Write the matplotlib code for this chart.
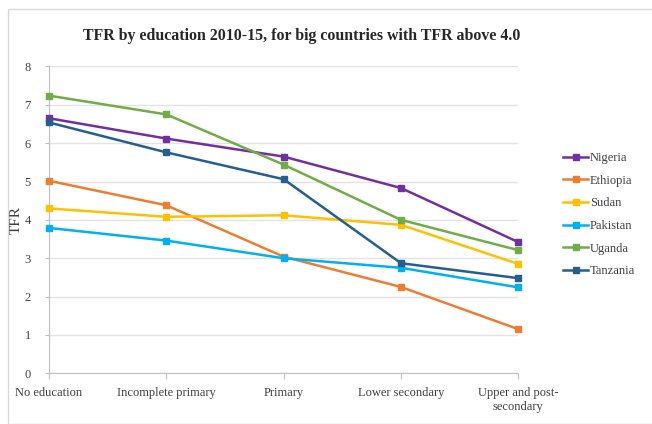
import matplotlib.pyplot as plt
from matplotlib.patches import Rectangle

levels = ["No education", "Incomplete primary", "Primary", "Lower secondary",
          "Upper and post-\nsecondary"]

nigeria = [6.65, 6.12, 5.65, 4.83, 3.42]
ethiopia = [5.02, 4.38, 3.04, 2.25, 1.15]
sudan = [4.30, 4.08, 4.12, 3.87, 2.85]
pakistan = [3.79, 3.46, 3.00, 2.75, 2.24]
uganda = [7.24, 6.75, 5.44, 4.00, 3.21]
tanzania = [6.54, 5.76, 5.06, 2.87, 2.48]

countries = ["Nigeria", "Ethiopia", "Sudan", "Pakistan", "Uganda", "Tanzania"]
series = [nigeria, ethiopia, sudan, pakistan, uganda, tanzania]
colors = ["#7030A0", "#ED7D31", "#FFC000", "#00B0F0", "#70AD47", "#255E91"]

plt.rcParams['font.family'] = ['Liberation Serif', 'DejaVu Serif']

fig = plt.figure(figsize=(6.52, 4.24), dpi=100)
ax = fig.add_axes([0.0752, 0.1196, 0.7198, 0.7236])

# light chart frame
fig.patches.append(Rectangle((8/652, 0), 1, 1 - 9/424, transform=fig.transFigure,
                             fill=False, edgecolor="#D9D9D9", lw=1))

x = range(len(levels))
for name, vals, c in zip(countries, series, colors):
    ax.plot(x, vals, color=c, lw=1.8, marker="s", markersize=4.5, label=name,
            clip_on=False, zorder=3)

ax.set_xlim(0, 4)
ax.set_ylim(0, 8)
ax.set_yticks(range(9))
ax.set_xticks(list(x))
ax.set_xticklabels(levels, fontsize=9, color="#404040")
ax.tick_params(axis="y", labelsize=9, labelcolor="#404040", length=3, color="#BFBFBF", pad=10)
ax.tick_params(axis="x", length=4, color="#BFBFBF", pad=6)
ax.grid(axis="y", color="#E3E3E3", lw=1)
ax.set_axisbelow(True)
for s in ["top", "right"]:
    ax.spines[s].set_visible(False)
for s in ["left", "bottom"]:
    ax.spines[s].set_color("#BFBFBF")

ax.set_ylabel("TFR", fontsize=11, color="#404040")
ax.yaxis.set_label_coords(-0.055, 0.5)
fig.text(0.463, 0.915, "TFR by education 2010-15, for big countries with TFR above 4.0",
         ha="center", va="center", fontsize=11.4, fontweight="bold", color="#262626")

fig.legend(loc="upper left", bbox_to_anchor=(0.847, 0.668), frameon=False,
           fontsize=9, handlelength=1.95, handletextpad=0.15, labelspacing=0.85,
           labelcolor="#404040")

fig.savefig("out.png", dpi=100)
